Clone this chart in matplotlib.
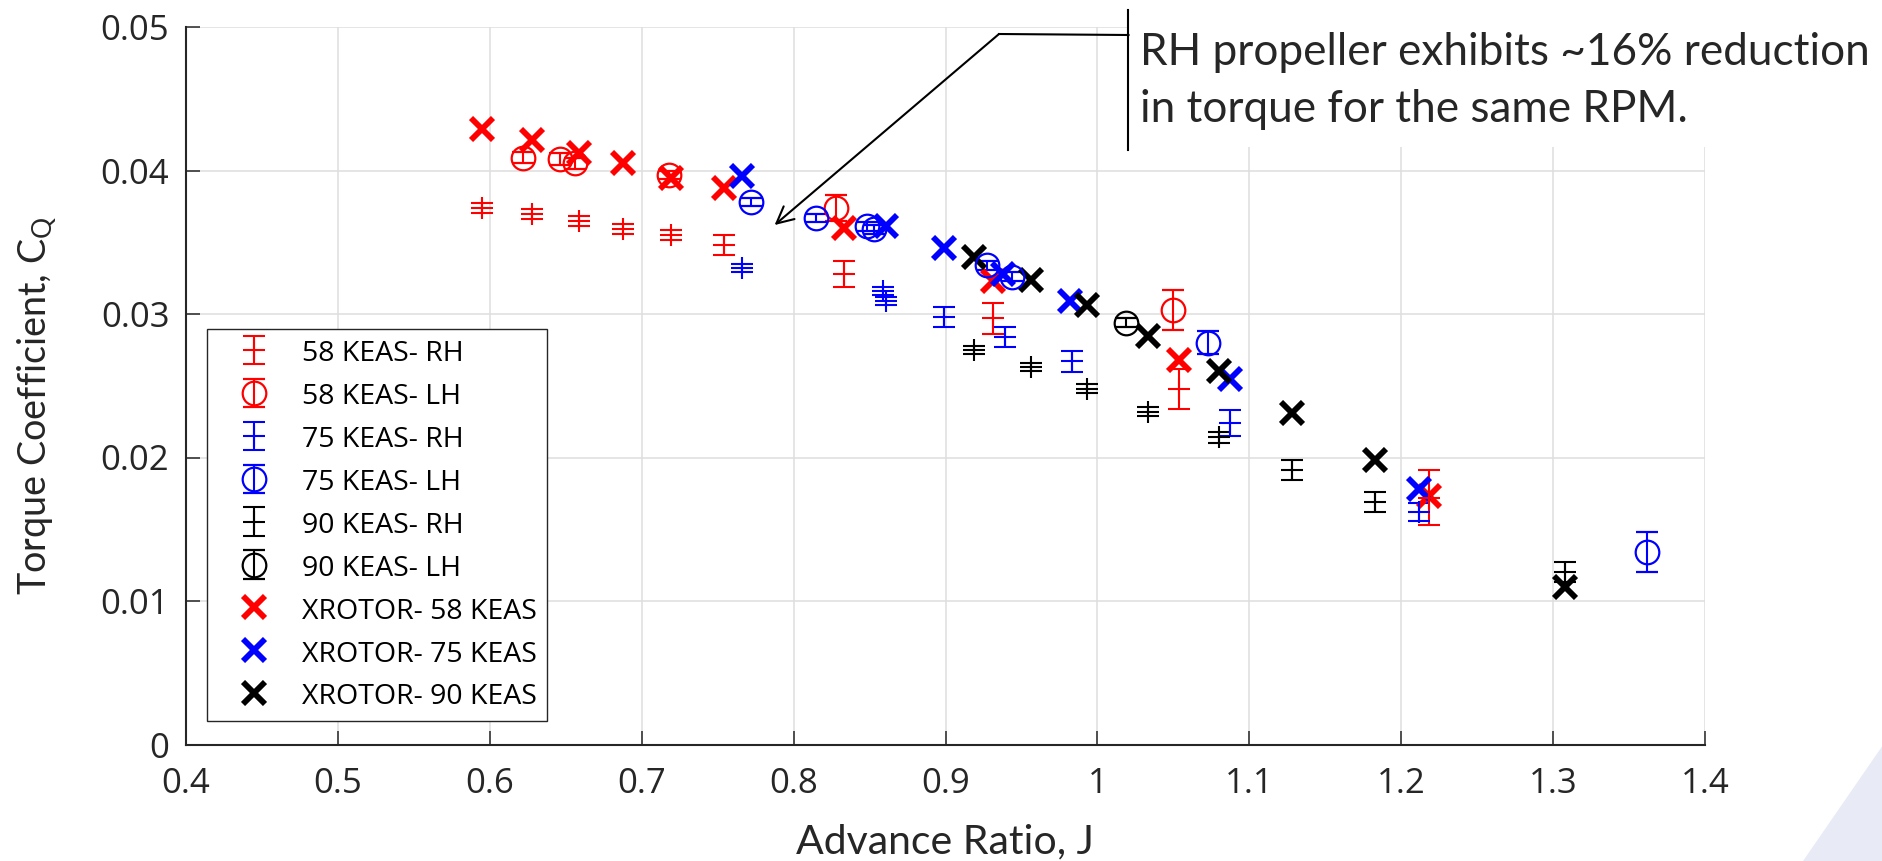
import matplotlib
matplotlib.use("Agg")
import matplotlib.pyplot as plt
from matplotlib.patches import Rectangle, Polygon
from matplotlib.lines import Line2D

# ---------------- data ----------------
j_58_rh = [0.595, 0.628, 0.659, 0.688, 0.719, 0.754, 0.833, 0.931, 1.054, 1.218]
cq_58_rh = [0.0374, 0.0370, 0.0365, 0.0359, 0.0355, 0.0348, 0.0328, 0.0297, 0.0248, 0.0172]
err_58_rh = [0.00035, 0.00035, 0.00035, 0.00035, 0.00035, 0.0007, 0.0009, 0.0011, 0.0014, 0.0019]

j_58_lh = [0.622, 0.646, 0.656, 0.718, 0.828, 1.050]
cq_58_lh = [0.0409, 0.0408, 0.0405, 0.0397, 0.0374, 0.0303]
err_58_lh = [0.0004, 0.0004, 0.0004, 0.0003, 0.0009, 0.0014]

j_75_rh = [0.766, 0.859, 0.861, 0.899, 0.939, 0.983, 1.087, 1.212]
cq_75_rh = [0.0332, 0.0316, 0.0309, 0.0298, 0.0284, 0.0267, 0.0224, 0.0162]
err_75_rh = [0.0003, 0.0003, 0.0003, 0.0007, 0.0007, 0.00075, 0.0009, 0.0006]

j_75_lh = [0.772, 0.815, 0.848, 0.853, 0.927, 0.944, 1.073, 1.362]
cq_75_lh = [0.0378, 0.0367, 0.0361, 0.0359, 0.0334, 0.0326, 0.0280, 0.0134]
err_75_lh = [0.0003, 0.0003, 0.0003, 0.0003, 0.0003, 0.0003, 0.0008, 0.0014]

j_90_rh = [0.919, 0.956, 0.993, 1.033, 1.080, 1.128, 1.183, 1.308]
cq_90_rh = [0.0275, 0.0263, 0.0248, 0.0232, 0.0214, 0.0191, 0.0169, 0.0120]
err_90_rh = [0.0003, 0.0003, 0.0003, 0.0003, 0.0004, 0.0007, 0.0007, 0.0007]

j_90_lh = [1.019]
cq_90_lh = [0.0294]
err_90_lh = [0.0003]

j_x58 = [0.595, 0.628, 0.659, 0.688, 0.719, 0.754, 0.833, 0.931, 1.054, 1.218]
cq_x58 = [0.0429, 0.0421, 0.0412, 0.0405, 0.0395, 0.0388, 0.0360, 0.0323, 0.0268, 0.0173]

j_x75 = [0.766, 0.861, 0.899, 0.938, 0.982, 1.087, 1.212]
cq_x75 = [0.0396, 0.0361, 0.0346, 0.0328, 0.0309, 0.0255, 0.0178]

j_x90 = [0.919, 0.956, 0.993, 1.033, 1.080, 1.128, 1.183, 1.308]
cq_x90 = [0.0340, 0.0324, 0.0306, 0.0285, 0.0260, 0.0231, 0.0198, 0.0110]

x_ticks = [0.4, 0.5, 0.6, 0.7, 0.8, 0.9, 1.0, 1.1, 1.2, 1.3, 1.4]
x_tick_labels = ["0.4", "0.5", "0.6", "0.7", "0.8", "0.9", "1", "1.1", "1.2", "1.3", "1.4"]
y_ticks = [0, 0.01, 0.02, 0.03, 0.04, 0.05]
y_tick_labels = ["0", "0.01", "0.02", "0.03", "0.04", "0.05"]

labels = ["58 KEAS- RH", "58 KEAS- LH", "75 KEAS- RH", "75 KEAS- LH",
          "90 KEAS- RH", "90 KEAS- LH",
          "XROTOR- 58 KEAS", "XROTOR- 75 KEAS", "XROTOR- 90 KEAS"]
annot_lines = ["RH propeller exhibits ~16% reduction", "in torque for the same RPM."]

RED, BLUE, BLACK = "#ff0000", "#0000ff", "#000000"
DARK = "#262626"

# ---------------- figure ----------------
W, H = 1883, 861
fig = plt.figure(figsize=(W / 100, H / 100), dpi=100)
fig.patch.set_facecolor("white")

def fx(px):
    return px / W

def fy(py):
    return 1 - py / H

ax_l, ax_r, ax_t, ax_b = 186, 1705, 27, 744.5
ax = fig.add_axes([fx(ax_l), fy(ax_b), (ax_r - ax_l) / W, (ax_b - ax_t) / H])

eb_kw = dict(capsize=8, elinewidth=1.5, capthick=1.5, linestyle="none")
handles = []
series_eb = [
    (j_58_rh, cq_58_rh, err_58_rh, RED, "+", labels[0]),
    (j_58_lh, cq_58_lh, err_58_lh, RED, "o", labels[1]),
    (j_75_rh, cq_75_rh, err_75_rh, BLUE, "+", labels[2]),
    (j_75_lh, cq_75_lh, err_75_lh, BLUE, "o", labels[3]),
    (j_90_rh, cq_90_rh, err_90_rh, BLACK, "+", labels[4]),
    (j_90_lh, cq_90_lh, err_90_lh, BLACK, "o", labels[5]),
]
for j, cq, e, col, mk, lab in series_eb:
    if mk == "o":
        h = ax.errorbar(j, cq, yerr=e, fmt="o", color=col, mfc="none", ms=17, mew=1.6,
                        label=lab, **eb_kw)
    else:
        h = ax.errorbar(j, cq, yerr=e, fmt="+", color=col, ms=16, mew=1.5,
                        label=lab, **eb_kw)
    handles.append(h)
for j, cq, col, lab in [(j_x58, cq_x58, RED, labels[6]),
                        (j_x75, cq_x75, BLUE, labels[7]),
                        (j_x90, cq_x90, BLACK, labels[8])]:
    (ln,) = ax.plot(j, cq, linestyle="none", marker="x", ms=16, mew=4.2, color=col, label=lab)
    handles.append(ln)

ax.set_xlim(0.4, 1.4)
ax.set_ylim(0, 0.05)
ax.set_xticks(x_ticks)
ax.set_xticklabels(x_tick_labels)
ax.set_yticks(y_ticks)
ax.set_yticklabels(y_tick_labels)
ax.set_axisbelow(True)
ax.grid(True, color="#dedede", linewidth=1.1)
for s in ["top", "right"]:
    ax.spines[s].set_visible(False)
for s in ["left", "bottom"]:
    ax.spines[s].set_color(DARK)
    ax.spines[s].set_linewidth(1.5)
ax.tick_params(axis="both", direction="in", length=10, width=1.1, colors=DARK,
               labelsize=25)
ax.tick_params(axis="x", pad=16)
ax.tick_params(axis="y", pad=12)
for t in ax.get_xticklabels() + ax.get_yticklabels():
    t.set_fontfamily("Open Sans")

plt.rcParams["mathtext.fontset"] = "custom"
plt.rcParams["mathtext.rm"] = "Lato"

ax.set_xlabel("Advance Ratio, J", fontfamily="Lato", fontsize=28, color=DARK)
ax.set_ylabel(r"Torque Coefficient, C$_\mathregular{Q}$", fontfamily="Lato", fontsize=28, color=DARK)
ax.xaxis.label.set_verticalalignment("baseline")
ax.xaxis.set_label_coords(0.5, (ax_b - 853) / (ax_b - ax_t))
ax.yaxis.label.set_verticalalignment("baseline")
ax.yaxis.set_label_coords((47 - ax_l) / (ax_r - ax_l), (ax_b - 405.5) / (ax_b - ax_t))

leg = ax.legend(handles, labels, loc="upper left",
                bbox_to_anchor=((207 - ax_l) / (ax_r - ax_l), (ax_b - 329) / (ax_b - ax_t)),
                borderaxespad=0, fancybox=False, framealpha=1, edgecolor=DARK,
                prop={"family": "Open Sans", "size": 20.5}, handlelength=2.6,
                handleheight=1.0, handletextpad=0.4, labelspacing=0.47, borderpad=0.35)
leg.get_frame().set_linewidth(1.0)

# callout box
fig.patches.append(Rectangle((fx(1129), fy(147)), 1 - fx(1129), 147 / H,
                             transform=fig.transFigure, facecolor="white",
                             edgecolor="none", zorder=5))
fig.lines.append(Line2D([fx(1128.5), fx(1128.5)], [fy(10), fy(150)],
                        transform=fig.transFigure, color="black", lw=1.5, zorder=6))
fig.lines.append(Line2D([fx(999), fx(1128.5)], [fy(34), fy(35)],
                        transform=fig.transFigure, color="black", lw=1.5, zorder=6))
ax.annotate("", xy=(0.7875, 0.0362), xycoords="data",
            xytext=(fx(999), fy(34)), textcoords="figure fraction",
            arrowprops=dict(arrowstyle="->,head_length=0.6,head_width=0.3",
                            lw=1.5, color="black", shrinkA=0, shrinkB=0,
                            mutation_scale=20),
            annotation_clip=False, zorder=6)
t1 = fig.text(fx(1140), fy(65), annot_lines[0], ha="left", va="baseline",
              fontfamily="Lato", fontsize=34, color=DARK, zorder=7)
t2 = fig.text(fx(1140), fy(122), annot_lines[1], ha="left", va="baseline",
              fontfamily="Lato", fontsize=34, color=DARK, zorder=7)

# decorative background corner
fig.patches.append(Polygon([(fx(1803), 0), (1, 116 / H), (1, 0)], closed=True,
                           transform=fig.transFigure, facecolor="#e8ebf6",
                           edgecolor="none", zorder=0))

# fit text sizes to measured widths
fig.canvas.draw()
r = fig.canvas.get_renderer()
bb = t1.get_window_extent(r)
fs = t1.get_fontsize() * 731 / bb.width
t1.set_fontsize(fs)
t2.set_fontsize(fs)
xl = ax.xaxis.label
bb = xl.get_window_extent(r)
xl.set_fontsize(xl.get_fontsize() * 298 / bb.width)
yl = ax.yaxis.label
bb = yl.get_window_extent(r)
yl.set_fontsize(yl.get_fontsize() * 379 / bb.height)

fig.savefig("out.png", dpi=100)
